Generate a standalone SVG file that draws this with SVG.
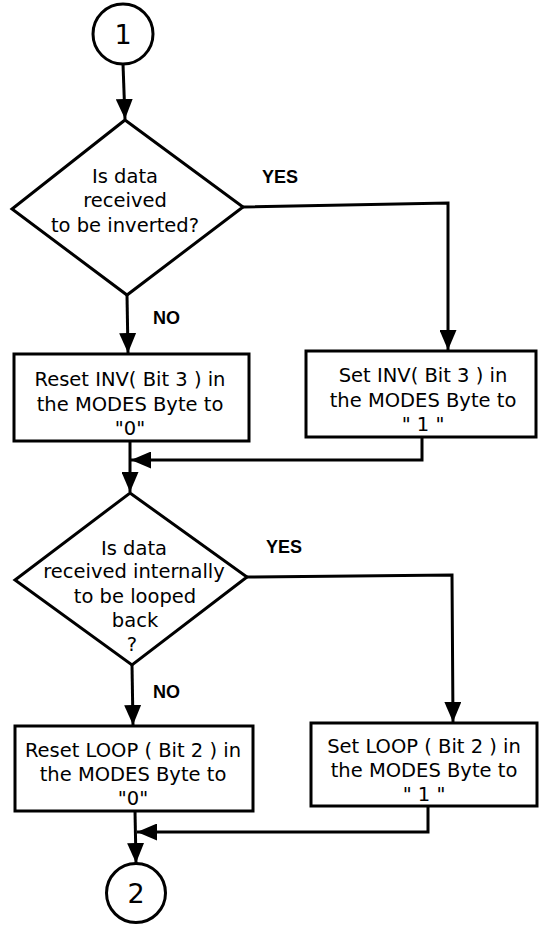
<svg xmlns="http://www.w3.org/2000/svg" width="539" height="925" viewBox="0 0 539 925">
  <style>
    .shape { fill: #fff; stroke: #000; stroke-width: 3; }
    .wire { fill: none; stroke: #000; stroke-width: 3; }
    .t { font-family: "DejaVu Sans", "Liberation Sans", sans-serif; font-size: 19.5px; fill: #000; text-anchor: middle; }
    .num { font-family: "DejaVu Sans", "Liberation Sans", sans-serif; font-size: 27px; fill: #000; text-anchor: middle; }
    .lbl { font-family: "Liberation Sans", "DejaVu Sans", sans-serif; font-size: 18px; font-weight: bold; fill: #000; }
  </style>
  <defs>
    <marker id="arrow" markerUnits="userSpaceOnUse" markerWidth="20" markerHeight="17" refX="20" refY="8.5" orient="auto">
      <path d="M0,0 L20,8.5 L0,17 z" fill="#000"/>
    </marker>
  </defs>
  <rect width="539" height="925" fill="#fff"/>

  <g id="connectors">
    <path class="wire" d="M123,64 L125,119" marker-end="url(#arrow)"/>
    <path class="wire" d="M243,207 L448,203 L448,350" marker-end="url(#arrow)"/>
    <path class="wire" d="M127,295 L128,353" marker-end="url(#arrow)"/>
    <path class="wire" d="M130,441 L130,492" marker-end="url(#arrow)"/>
    <path class="wire" d="M422,437 L422,460 L131,460" marker-end="url(#arrow)"/>
    <path class="wire" d="M247,577 L452,575 L453,722" marker-end="url(#arrow)"/>
    <path class="wire" d="M132,665 L133,725" marker-end="url(#arrow)"/>
    <path class="wire" d="M135,811 L136,863" marker-end="url(#arrow)"/>
    <path class="wire" d="M428,806 L428,832 L137,832" marker-end="url(#arrow)"/>
    <text class="lbl" x="262" y="183">YES</text>
    <text class="lbl" x="153" y="324">NO</text>
    <text class="lbl" x="266" y="553">YES</text>
    <text class="lbl" x="153" y="698">NO</text>
  </g>

  <g id="start">
    <circle class="shape" cx="123" cy="34" r="30"/>
    <text class="num" x="123" y="44">1</text>
  </g>

  <g id="decision-invert">
    <polygon class="shape" points="125,120 243,207 127,295 12,209"/>
    <text class="t" x="125" y="183">Is data</text>
    <text class="t" x="125" y="207">received</text>
    <text class="t" x="125" y="232">to be inverted?</text>
  </g>

  <g id="reset-inv">
    <rect class="shape" x="14" y="354" width="235" height="87"/>
    <text class="t" x="130" y="386">Reset INV( Bit 3 ) in</text>
    <text class="t" x="130" y="411">the MODES Byte to</text>
    <text class="t" x="130" y="435">"0"</text>
  </g>

  <g id="set-inv">
    <rect class="shape" x="306" y="351" width="230" height="86"/>
    <text class="t" x="423" y="382">Set INV( Bit 3 ) in</text>
    <text class="t" x="423" y="407">the MODES Byte to</text>
    <text class="t" x="423" y="431">" 1 "</text>
  </g>

  <g id="decision-loop">
    <polygon class="shape" points="130,493 247,577 132,665 15,580"/>
    <text class="t" x="134" y="555">Is data</text>
    <text class="t" x="134" y="578">received internally</text>
    <text class="t" x="135" y="603">to be looped</text>
    <text class="t" x="135" y="627">back</text>
    <text class="t" x="132" y="651">?</text>
  </g>

  <g id="reset-loop">
    <rect class="shape" x="15" y="726" width="238" height="85"/>
    <text class="t" x="133" y="757">Reset LOOP ( Bit 2 ) in</text>
    <text class="t" x="133" y="781">the MODES Byte to</text>
    <text class="t" x="133" y="805">"0"</text>
  </g>

  <g id="set-loop">
    <rect class="shape" x="311" y="723" width="226" height="83"/>
    <text class="t" x="424" y="753">Set LOOP ( Bit 2 ) in</text>
    <text class="t" x="424" y="777">the MODES Byte to</text>
    <text class="t" x="424" y="801">" 1 "</text>
  </g>

  <g id="end">
    <circle class="shape" cx="136" cy="893" r="29.5"/>
    <text class="num" x="136" y="903">2</text>
  </g>
</svg>
